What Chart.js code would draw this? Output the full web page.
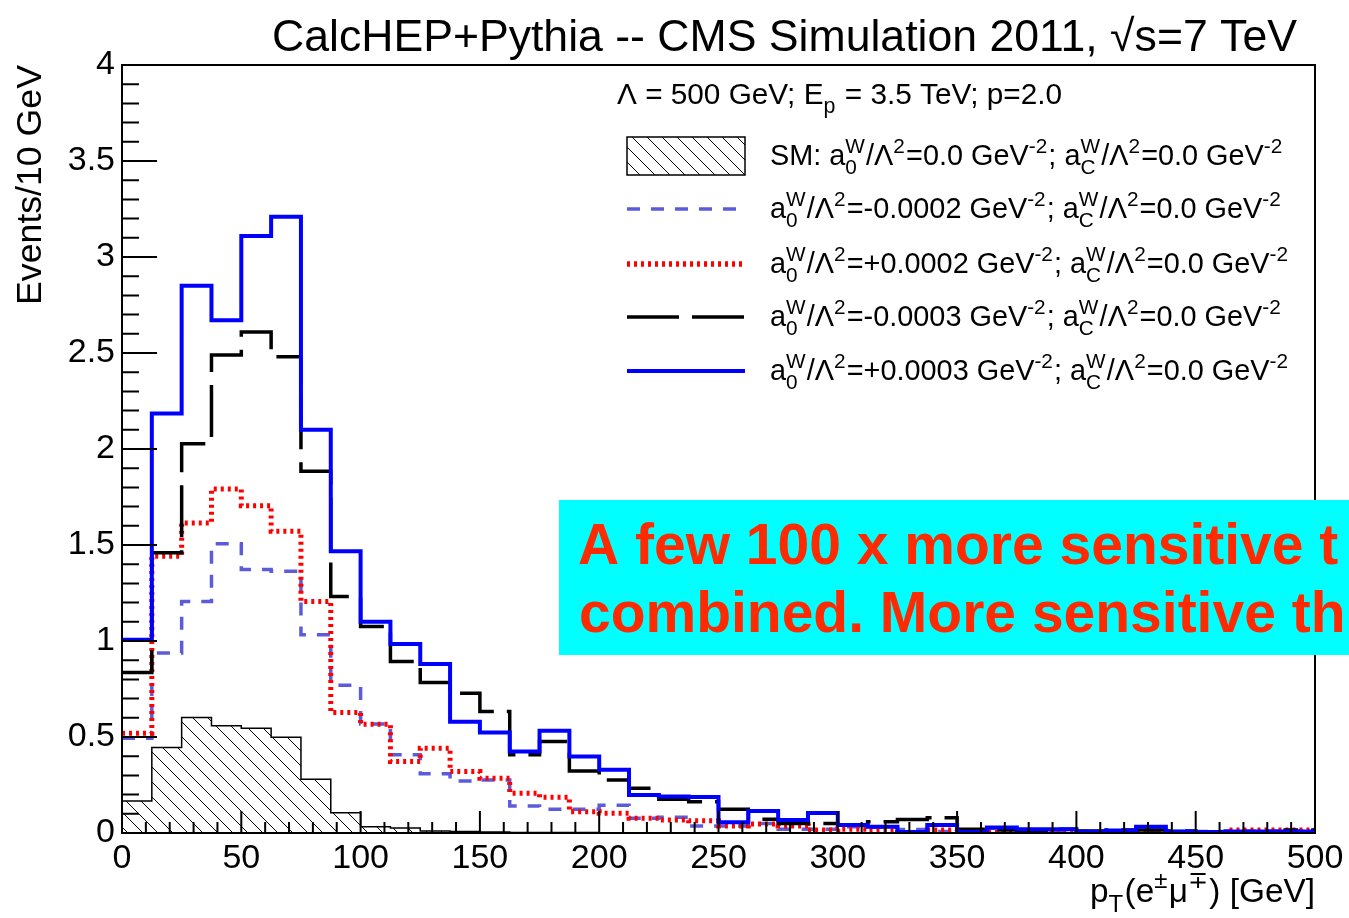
<!DOCTYPE html>
<html><head><meta charset="utf-8">
<script src="https://cdn.jsdelivr.net/npm/chart.js@4/dist/chart.umd.min.js"></script>
<style>html,body{margin:0;padding:0;background:#fff;overflow:hidden}canvas{display:block}</style>
</head><body>
<canvas id="c" width="1349" height="918"></canvas>
<script>
// ---------- data (bin lower edges in GeV, 12.5 GeV bins) ----------
const binLowEdges = [0,12.5,25,37.5,50,62.5,75,87.5,100,112.5,125,137.5,150,162.5,175,187.5,200,212.5,225,237.5,
  250,262.5,275,287.5,300,312.5,325,337.5,350,362.5,375,387.5,400,412.5,425,437.5,450,462.5,475,487.5];
const xUpperEdge = 500;
const smValues = [0.167,0.445,0.601,0.558,0.546,0.499,0.280,0.106,0.033,0.026,0.010,0.008,0.005,0.003,0.002,0.002,0.001,0,0,0,
  0,0,0,0,0,0,0,0,0,0,0,0,0,0,0,0,0,0,0,0];
const a0m0002 = [0.494,0.937,1.206,1.506,1.372,1.363,1.033,0.770,0.568,0.407,0.308,0.271,0.276,0.141,0.124,0.124,0.144,0.077,0.082,0.037,
  0.037,0.050,0.019,0.020,0.033,0.030,0.018,0.008,0.010,0.025,0.010,0.010,0.008,0.010,0.010,0.008,0.008,0.010,0.010,0.010];
const a0p0002 = [0.520,1.441,1.615,1.792,1.705,1.571,1.206,0.628,0.567,0.372,0.442,0.320,0.285,0.207,0.186,0.111,0.103,0.077,0.068,0.064,
  0.037,0.047,0.037,0.016,0.020,0.016,0.002,0.016,0.010,0.005,0.003,0.010,0.000,0.003,0.010,0.000,0.003,0.016,0.016,0.016];
const a0m0003 = [0.836,1.460,2.027,2.490,2.610,2.480,1.884,1.232,1.076,0.893,0.784,0.728,0.633,0.407,0.476,0.323,0.276,0.233,0.176,0.163,
  0.124,0.071,0.050,0.050,0.042,0.059,0.070,0.080,0.019,0.016,0.010,0.020,0.010,0.016,0.016,0.010,0.005,0.003,0.003,0.016];
const a0p0003 = [1.006,2.185,2.850,2.670,3.110,3.210,2.100,1.467,1.100,0.984,0.880,0.580,0.523,0.424,0.532,0.398,0.329,0.198,0.190,0.187,
  0.056,0.115,0.068,0.104,0.042,0.033,0.005,0.042,0.005,0.028,0.020,0.020,0.007,0.013,0.033,0.008,0.005,0.008,0.008,0.008];
const xTickValues = [0,50,100,150,200,250,300,350,400,450,500];
const yTickValues = [0,0.5,1,1.5,2,2.5,3,3.5,4];

// ---------- helpers ----------
const FONT = "'Liberation Sans', Arial, Helvetica, sans-serif";
function font(sz, bold){ return (bold ? 'bold ' : '') + sz.toFixed(2) + 'px ' + FONT; }
function layoutRich(ctx, segs, size){
  let w = 0; const items = [];
  for (const s of segs){
    if (typeof s === 'string'){
      ctx.font = font(size); items.push({t:s, x:w, dy:0, sz:size}); w += ctx.measureText(s).width;
    } else {
      const ss = size*0.72; ctx.font = font(ss); let ww = 0;
      if (s.sup != null){ items.push({t:s.sup, x:w, dy:-size*0.42, sz:ss}); ww = Math.max(ww, ctx.measureText(s.sup).width); }
      if (s.sub != null){ items.push({t:s.sub, x:w, dy:size*0.30, sz:ss}); ww = Math.max(ww, ctx.measureText(s.sub).width); }
      w += ww + size*0.04;
    }
  }
  return {w, items};
}
function fitSize(ctx, segs, target){ const w = layoutRich(ctx, segs, 20).w; return 20*target/w; }
function drawRich(ctx, segs, x, y, size, align){
  const L = layoutRich(ctx, segs, size);
  let x0 = x; if (align === 'right') x0 = x - L.w; else if (align === 'center') x0 = x - L.w/2;
  ctx.textAlign = 'left'; ctx.textBaseline = 'alphabetic';
  for (const it of L.items){ ctx.font = font(it.sz); ctx.fillText(it.t, x0 + it.x, y + it.dy); }
}
function steps(vals){
  const pts = binLowEdges.map((x, i) => ({x, y: vals[i]}));
  pts.push({x: xUpperEdge, y: vals[vals.length - 1]});
  return pts;
}
function makeHatch(){
  const s = 15; const c = document.createElement('canvas'); c.width = s; c.height = s;
  const g = c.getContext('2d'); g.strokeStyle = '#000'; g.lineWidth = 1;
  g.beginPath();
  for (const k of [-1, 0, 1]){ g.moveTo(k*s, 0); g.lineTo(k*s + s, s); }
  g.stroke();
  return g.createPattern(c, 'repeat');
}
const hatch = makeHatch();

const aW = (v) => [{sup:'W', sub:'0'}, '/\u039B', {sup:'2'}, '=' + v + ' GeV', {sup:'-2'}, '; a', {sup:'W', sub:'C'}, '/\u039B', {sup:'2'}, '=0.0 GeV', {sup:'-2'}];
const legendEntries = [
  {segs: ['SM: a'].concat(aW('0.0')), type:'hatch', y:156},
  {segs: ['a'].concat(aW('-0.0002')), type:'line', color:'#5c5cdb', dash:[13,11], w:3.5, y:209},
  {segs: ['a'].concat(aW('+0.0002')), type:'line', color:'#ff0000', dash:[3,4], w:5.5, y:264},
  {segs: ['a'].concat(aW('-0.0003')), type:'line', color:'#000000', dash:[52,13], w:3.5, y:317},
  {segs: ['a'].concat(aW('+0.0003')), type:'line', color:'#0000ff', dash:[], w:4, y:371}
];

const decor = {
  id: 'decor',
  afterDatasetsDraw(chart){
    const ctx = chart.ctx; const {left, right, top, bottom} = chart.chartArea;
    const xs = chart.scales.x, ys = chart.scales.y;
    ctx.save();
    ctx.strokeStyle = '#000'; ctx.lineWidth = 2;
    ctx.beginPath();
    for (let i = 0; i <= 40; i++){
      const y = ys.getPixelForValue(i/10); const len = (i % 5 === 0) ? 35 : 17;
      ctx.moveTo(left, y); ctx.lineTo(left + len, y);
    }
    for (let i = 0; i <= 50; i++){
      const x = xs.getPixelForValue(i*10); const len = (i % 5 === 0) ? 22 : 11;
      ctx.moveTo(x, bottom); ctx.lineTo(x, bottom - len);
    }
    ctx.stroke();
    ctx.strokeRect(left, top, right - left, bottom - top);
    ctx.restore();
  },
  afterDraw(chart){
    const ctx = chart.ctx; const {left, right, top, bottom} = chart.chartArea;
    ctx.save();
    ctx.fillStyle = '#000';
    const titleSegs = ['CalcHEP+Pythia -- CMS Simulation 2011, \u221As=7 TeV'];
    drawRich(ctx, titleSegs, 272, 51, fitSize(ctx, titleSegs, 1025), 'left');
    const yT = ['Events/10 GeV'];
    const ySz = fitSize(ctx, yT, 240);
    ctx.save(); ctx.translate(41, top); ctx.rotate(-Math.PI/2);
    drawRich(ctx, yT, 0, 0, ySz, 'right'); ctx.restore();
    const xT = ['p', {sub:'T'}, '(e', {sup:'\u00B1'}, '\u03BC', {sup:'\u2213'}, ') [GeV]'];
    drawRich(ctx, xT, right, 902, fitSize(ctx, xT, 225), 'right');
    const hdr = ['\u039B = 500 GeV; E', {sub:'p'}, ' = 3.5 TeV; p=2.0'];
    drawRich(ctx, hdr, 617, 104, fitSize(ctx, hdr, 445), 'left');
    const legSz = fitSize(ctx, legendEntries[1].segs, 512);
    for (const e of legendEntries){
      if (e.type === 'hatch'){
        ctx.fillStyle = hatch; ctx.fillRect(627, e.y - 19, 118, 38);
        ctx.strokeStyle = '#000'; ctx.lineWidth = 1.5; ctx.setLineDash([]);
        ctx.strokeRect(627, e.y - 19, 118, 38);
      } else {
        ctx.strokeStyle = e.color; ctx.lineWidth = e.w; ctx.setLineDash(e.dash);
        ctx.beginPath(); ctx.moveTo(627, e.y); ctx.lineTo(745, e.y); ctx.stroke();
        ctx.setLineDash([]);
      }
      ctx.fillStyle = '#000';
      drawRich(ctx, e.segs, 770, e.y + 9, legSz, 'left');
    }
    ctx.fillStyle = '#00ffff'; ctx.fillRect(559, 500, 1349 - 559, 155);
    ctx.fillStyle = '#ff2a00'; ctx.font = font(57, true); ctx.textAlign = 'left'; ctx.textBaseline = 'alphabetic';
    ctx.fillText('A few 100 x more sensitive t', 578, 564);
    ctx.fillText('combined. More sensitive th', 579, 632);
    ctx.restore();
  }
};

const common = {pointRadius: 0, tension: 0, stepped: true, fill: false};
new Chart(document.getElementById('c'), {
  type: 'line',
  data: {
    datasets: [
      Object.assign({label:'SM', data: steps(smValues), borderColor:'#000', borderWidth:1.5, backgroundColor: hatch, order:5}, common, {fill:'origin'}),
      Object.assign({label:'-0.0002', data: steps(a0m0002), borderColor:'#5c5cdb', borderWidth:3.5, borderDash:[13,11], order:4}, common),
      Object.assign({label:'+0.0002', data: steps(a0p0002), borderColor:'#ff0000', borderWidth:5, borderDash:[3,4], order:3}, common),
      Object.assign({label:'-0.0003', data: steps(a0m0003), borderColor:'#000000', borderWidth:3.5, borderDash:[52,13], order:2}, common),
      Object.assign({label:'+0.0003', data: steps(a0p0003), borderColor:'#0000ff', borderWidth:4, order:1}, common)
    ]
  },
  options: {
    responsive: false, animation: false, events: [],
    layout: {padding: {left: 0, top: 65, right: 34, bottom: 0}},
    plugins: {legend: {display: false}, title: {display: false}, tooltip: {enabled: false}},
    scales: {
      x: {type: 'linear', min: 0, max: 500, offset: false,
          grid: {display: false, drawTicks: false}, border: {display: false},
          afterBuildTicks: (s) => { s.ticks = xTickValues.map(v => ({value: v})); },
          afterFit: (s) => { s.height = 85; },
          ticks: {autoSkip: false, maxRotation: 0, padding: 5, color: '#000', font: {family: FONT, size: 34}, callback: (v) => String(v)}},
      y: {type: 'linear', min: 0, max: 4,
          grid: {display: false, drawTicks: false}, border: {display: false},
          afterBuildTicks: (s) => { s.ticks = yTickValues.map(v => ({value: v})); },
          afterFit: (s) => { s.width = 122; },
          ticks: {padding: 7, color: '#000', font: {family: FONT, size: 34}, callback: (v) => String(v)}}
    }
  },
  plugins: [decor]
});
</script>
</body></html>
